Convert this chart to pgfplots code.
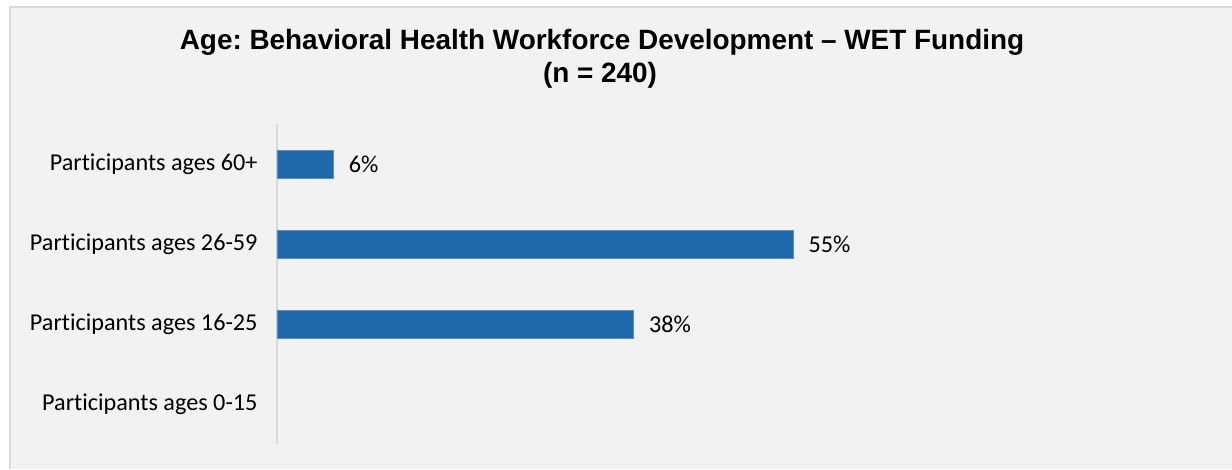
\documentclass[border=0pt]{standalone}
\usepackage{pgfplots}
\pgfplotsset{compat=1.18}
\usepackage{fontspec}
\setmainfont{Carlito}[Ligatures={NoCommon}]
\newfontfamily\titlefont{Liberation Sans}
\definecolor{bg}{HTML}{F2F2F2}
\definecolor{frame}{HTML}{D9D9D9}
\definecolor{barblue}{HTML}{1F69AA}
\definecolor{baredge}{HTML}{5B8FC4}
\begin{document}
\frenchspacing
\begin{tikzpicture}[x=1pt,y=1pt]
\path[use as bounding box] (0,0) rectangle (1232,469);
\fill[bg] (10,0) rectangle (1232,462);
\draw[frame,line width=1.5pt] (10,0) -- (10,462) -- (1232,462);
\node[anchor=base,font={\titlefont\bfseries\fontsize{27.9}{32}\selectfont}] at (602,419) {Age: Behavioral Health Workforce Development – WET Funding};
\node[anchor=base,font={\titlefont\bfseries\fontsize{27.9}{32}\selectfont}] at (600,386) {(n = 240)};
\begin{axis}[
  at={(277pt,25pt)}, anchor=south west,
  scale only axis, width=938pt, height=320pt,
  xmin=0, xmax=100, ymin=-0.5, ymax=3.5,
  axis x line=none,
  axis y line*=left,
  y axis line style={draw=frame, line width=1.5pt, -},
  ytick={0,1,2,3},
  yticklabels={Participants ages 0-15, Participants ages 16-25, Participants ages 26-59, Participants ages 60+},
  major tick length=0pt,
  yticklabel style={font=\fontsize{24.2}{28}\selectfont, text=black, xshift=-16pt},
  xbar, bar width=28pt,
  nodes near coords={\pgfplotspointmeta\%},
  every node near coord/.append style={font=\fontsize{24.2}{28}\selectfont, text=black, anchor=west, xshift=12pt},
  point meta=explicit symbolic,
  clip=false,
]
\addplot[fill=barblue, draw=baredge, line width=0.6pt] table[meta=l] {
x y l
6 3 6
55 2 55
38 1 38
};
\end{axis}
\end{tikzpicture}
\end{document}
